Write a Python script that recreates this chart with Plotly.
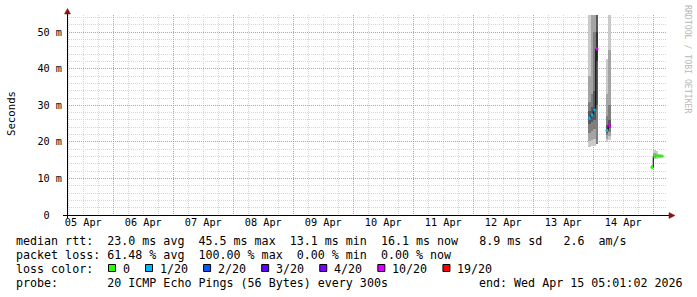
import plotly.graph_objects as go
from datetime import datetime, timedelta

# ---------------- data ----------------
col_start = ["2026-04-13 22:00", "2026-04-13 23:00", "2026-04-14 00:00", "2026-04-14 01:00",
             "2026-04-14 05:00", "2026-04-14 06:00",
             "2026-04-14 23:00", "2026-04-15 00:00", "2026-04-15 01:00",
             "2026-04-15 02:00", "2026-04-15 03:00"]
median_ms = [26.5, 27.4, 28.7, 45.4, 23.1, 24.5, 13.05, 16.1, 16.15, 16.05, 16.1]
lost_pings = [1, 1, 1, 10, 1, 10, 0, 0, 0, 0, 0]

# smoke bands (ping pair level -> low / high ping in ms), None = not present
smoke_levels = [2, 4, 6, 8, 10]
smoke_lo = [
    [18.7, 20.3, 22.5, 24.8, 26.2],
    [19.0, 20.5, 23.0, 25.5, 27.0],
    [19.0, 20.8, 23.5, 26.0, 28.2],
    [None, None, 19.5, 30.0, 42.0],
    [20.0, 20.8, 21.8, 22.4, 22.9],
    [20.5, 21.5, 22.8, 23.8, 24.2],
    [12.8, None, None, None, None],
    [15.3, 15.7, 15.9, None, None],
    [15.4, 15.8, 16.0, None, None],
    [15.8, None, None, None, None],
    [15.9, None, None, None, None],
]
smoke_hi = [
    [70.0, 38.0, 31.0, 28.5, 26.9],
    [70.0, 60.0, 33.0, 29.5, 27.8],
    [70.0, 70.0, 50.0, 34.0, 29.2],
    [None, None, 70.0, 70.0, 50.0],
    [42.7, 33.0, 27.0, 24.5, 23.4],
    [70.0, 45.0, 30.0, 26.0, 24.8],
    [13.6, None, None, None, None],
    [17.8, 16.9, 16.4, None, None],
    [17.6, 16.8, 16.4, None, None],
    [16.6, None, None, None, None],
    [16.4, None, None, None, None],
]

loss_labels = ["0", "1/20", "2/20", "3/20", "4/20", "10/20", "19/20"]
loss_min = [0, 1, 2, 3, 4, 10, 19]
loss_colors = ["#26ff00", "#00b8ff", "#0059ff", "#5e00ff", "#7e00ff", "#dd00ff", "#ff0000"]

y_tick_vals = [0, 10, 20, 30, 40, 50]
y_tick_text = ["0\u00a0\u00a0", "10 m", "20 m", "30 m", "40 m", "50 m"]

stats_line1 = "median rtt:  23.0 ms avg  45.5 ms max  13.1 ms min  16.1 ms now   8.9 ms sd   2.6  am/s"
stats_line2 = "packet loss: 61.48 % avg  100.00 % max  0.00 % min  0.00 % now"
probe_line = "probe:       20 ICMP Echo Pings (56 Bytes) every 300s"
end_text = "end: Wed Apr 15 05:01:02 2026"

x_range = ["2026-04-05 05:30", "2026-04-15 05:30"]
y_range = [0, 54.7]

# ---------------- geometry ----------------
W, H = 697, 297
L, R, T, B = 67, 30, 15, 82
PW, PH = W - L - R, H - T - B
MONO = "DejaVu Sans Mono"


def px(xp):
    return (xp - L) / PW


def py(yp):
    return (T + PH - yp) / PH


step = timedelta(hours=1)
starts = [datetime.fromisoformat(s) for s in col_start]
ends = [s + step for s in starts]
centers = [s + step / 2 for s in starts]

fig = go.Figure()

# smoke
for j, lvl in enumerate(smoke_levels):
    g = int(190 / 10 * (10 - lvl)) + 50
    col = "#%02x%02x%02x" % (g, g, g)
    xs, bases, hs = [], [], []
    for i in range(len(starts)):
        lo, hi = smoke_lo[i][j], smoke_hi[i][j]
        if lo is None or hi is None:
            continue
        xs.append(centers[i]); bases.append(lo); hs.append(hi - lo)
    fig.add_trace(go.Bar(x=xs, y=hs, base=bases, width=3600000, marker=dict(color=col, line=dict(width=0)),
                         showlegend=False, hoverinfo="skip"))

# black median step line
bx, by = [], []
for i in range(len(starts)):
    if i > 0 and starts[i] != ends[i - 1]:
        bx.append(None); by.append(None)
    bx += [starts[i], ends[i]]
    by += [median_ms[i], median_ms[i]]
fig.add_trace(go.Scatter(x=bx, y=by, mode="lines", line=dict(color="#000000", width=1),
                         showlegend=False, hoverinfo="skip"))


def loss_class(n):
    k = 0
    for idx, m in enumerate(loss_min):
        if n >= m:
            k = idx
    return k


for k, colr in enumerate(loss_colors):
    sx, sy = [], []
    for i in range(len(starts)):
        if loss_class(lost_pings[i]) == k:
            sx += [starts[i], ends[i], None]
            sy += [median_ms[i], median_ms[i], None]
    if sx:
        fig.add_trace(go.Scatter(x=sx, y=sy, mode="lines", line=dict(color=colr, width=3),
                                 showlegend=False, hoverinfo="skip"))

grid_major = "#f08c8c"
grid_minor = "#d6d6d6"
dash = "1px,1px"

fig.update_layout(
    width=W, height=H, margin=dict(l=L, r=R, t=T, b=B, pad=0),
    paper_bgcolor="#ffffff", plot_bgcolor="#ffffff",
    barmode="overlay", bargap=0,
    font=dict(family=MONO, size=10.2, color="#000000"),
    xaxis=dict(type="date", range=x_range, tickmode="linear", tick0="2026-04-05", dtick=86400000,
               tickformat="%d %b", ticklabelmode="period", showgrid=True, gridcolor=grid_major,
               griddash=dash, gridwidth=1, zeroline=False, showline=False, ticks="",
               tickfont=dict(family=MONO, size=10.2, color="#000000"),
               minor=dict(tick0="2026-04-05", dtick=6 * 3600000, showgrid=True, gridcolor=grid_minor,
                          griddash=dash, gridwidth=1)),
    yaxis=dict(range=y_range, tickmode="array", tickvals=y_tick_vals, ticktext=y_tick_text,
               showgrid=True, gridcolor=grid_major, griddash=dash, gridwidth=1, zeroline=False,
               showline=False, ticks="", ticklabelstandoff=4,
               tickfont=dict(family=MONO, size=10.2, color="#000000"),
               minor=dict(tickmode="linear", tick0=0, dtick=2, showgrid=True, gridcolor=grid_minor,
                          griddash=dash, gridwidth=1)),
)

shapes = []
# axes
shapes.append(dict(type="line", xref="paper", yref="paper", x0=px(67.5), x1=px(67.5), y0=py(218), y1=py(12),
                   line=dict(color="#000000", width=1)))
shapes.append(dict(type="line", xref="paper", yref="paper", x0=px(63), x1=px(670), y0=py(215.5), y1=py(215.5),
                   line=dict(color="#000000", width=1)))
# arrows
shapes.append(dict(type="path", xref="paper", yref="paper",
                   path="M %f,%f L %f,%f L %f,%f Z" % (px(64.5), py(14), px(70.5), py(14), px(67.5), py(8.5)),
                   fillcolor="#8b1010", line=dict(color="#8b1010", width=0.5)))
shapes.append(dict(type="path", xref="paper", yref="paper",
                   path="M %f,%f L %f,%f L %f,%f Z" % (px(669), py(212.5), px(669), py(218.5), px(675), py(215.5)),
                   fillcolor="#8b1010", line=dict(color="#8b1010", width=0.5)))

annotations = []


def add_text(text, xpix, ypix, size=11.66, color="#000000", angle=0, xanchor="left"):
    annotations.append(dict(text=text.replace(" ", "\u00a0"), xref="paper", yref="paper", x=px(xpix), y=py(ypix),
                            xanchor=xanchor, yanchor="middle", showarrow=False, textangle=angle,
                            font=dict(family=MONO, size=size, color=color), borderpad=0, borderwidth=0))


add_text(stats_line1, 16, 241)
add_text(stats_line2, 16, 255)
add_text("loss color:", 16, 269)
add_text(probe_line, 16, 283)
add_text(end_text, 479, 283)
add_text("Seconds", 11, 114, size=10.7, angle=-90, xanchor="center")
add_text("RRDTOOL / TOBI OETIKER", 688, 59, size=8.2, color="#b8b8b8", angle=90, xanchor="center")

# loss color legend boxes
bx0 = 108.5
for lab, colr in zip(loss_labels, loss_colors):
    shapes.append(dict(type="rect", xref="paper", yref="paper", x0=px(bx0), x1=px(bx0 + 7), y0=py(264.5), y1=py(271.5),
                       fillcolor=colr, line=dict(color="#000000", width=1)))
    add_text(lab, bx0 + 14.5, 269)
    bx0 += 30 + 7.02 * len(lab)

fig.update_layout(shapes=shapes, annotations=annotations)
fig.write_html("out.html")
